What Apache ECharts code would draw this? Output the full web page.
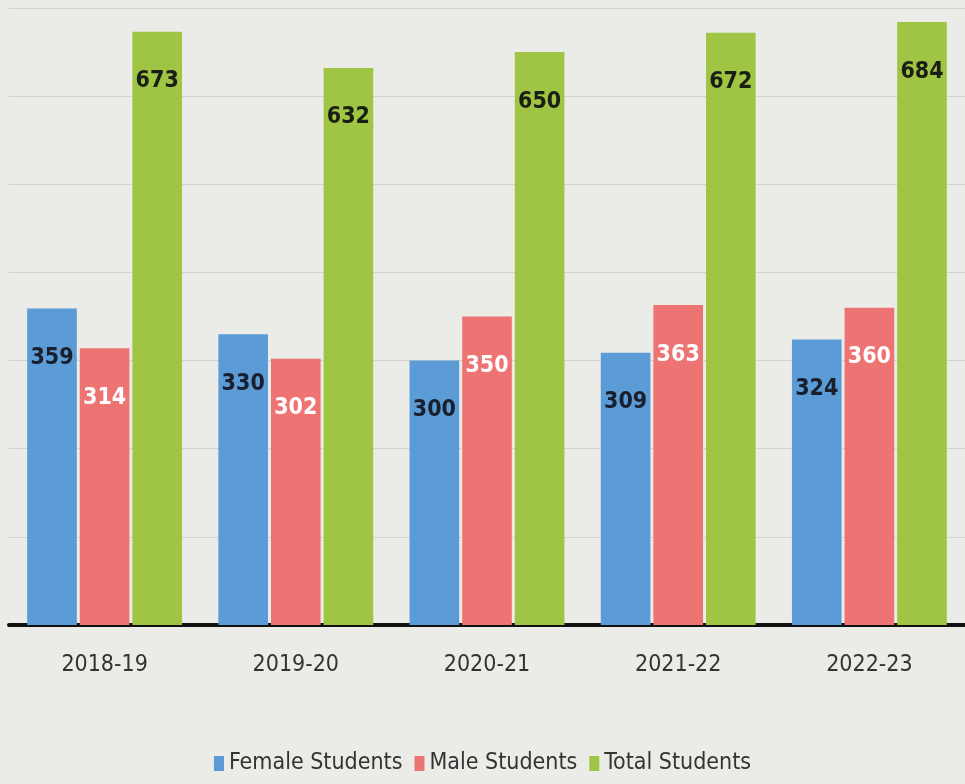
<!DOCTYPE html>
<html>
<head>
<meta charset="utf-8">
<script src="https://cdn.jsdelivr.net/npm/echarts@6/dist/echarts.min.js"></script>
<style>
html,body{margin:0;padding:0;background:#ebebe8;}
#container{width:965px;height:784px;}
</style>
</head>
<body>
<div id="container"></div>
<script>
var years = ['2018-19', '2019-20', '2020-21', '2021-22', '2022-23'];
var female = [359, 330, 300, 309, 324];
var male = [314, 302, 350, 363, 360];
var total = [673, 632, 650, 672, 684];

var FONT = "'DejaVu Sans Condensed', 'Liberation Sans Narrow', 'Open Sans', sans-serif";

function bar(name, data, color, labelColor) {
	return {
		name: name,
		type: 'bar',
		data: data,
		barGap: '6%',
		barCategoryGap: '19%',
		itemStyle: { color: color },
		label: {
			show: true,
			position: 'insideTop',
			distance: 38,
			color: labelColor,
			fontFamily: FONT,
			fontWeight: 'bold',
			fontSize: 23
		}
	};
}

var dom = document.getElementById("container");
var myChart = echarts.init(dom);
var option = {
	backgroundColor: '#ebebe8',
	animation: false,
	grid: {
		left: 9,
		right: 0,
		top: 8,
		bottom: 159
	},
	legend: {
		bottom: 4,
		left: 'center',
		itemWidth: 10,
		itemHeight: 15,
		itemGap: 12,
		icon: 'rect',
		textStyle: {
			fontFamily: FONT,
			fontSize: 23,
			color: '#333'
		}
	},
	xAxis: {
		type: 'category',
		data: years,
		axisLine: { lineStyle: { color: '#111', width: 4 } },
		axisTick: { show: false },
		axisLabel: {
			margin: 29,
			fontFamily: FONT,
			fontSize: 23,
			color: '#333'
		}
	},
	yAxis: {
		type: 'value',
		min: 0,
		max: 700,
		interval: 100,
		axisLabel: { show: false },
		axisLine: { show: false },
		axisTick: { show: false },
		splitLine: { lineStyle: { color: '#d2d2cf', width: 1 } }
	},
	series: [
		bar('Female Students', female, '#5b9bd6', '#1a1f2e'),
		bar('Male Students', male, '#ee7474', '#ffffff'),
		bar('Total Students', total, '#a0c443', '#1a1f14')
	]
};
myChart.setOption(option, true);
</script>
</body>
</html>
